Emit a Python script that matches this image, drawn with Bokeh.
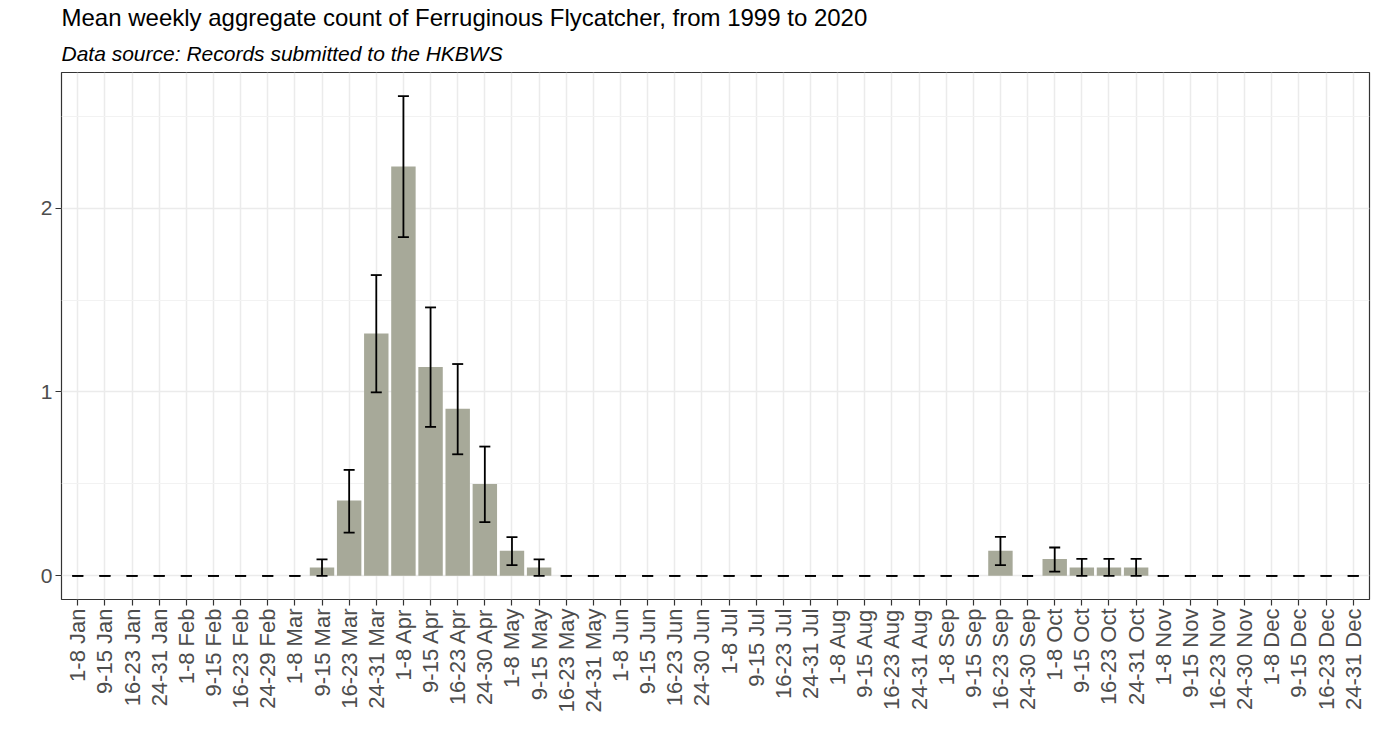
import math
from bokeh.plotting import figure
from bokeh.models import Range1d, FactorRange, FixedTicker, Title, Whisker, ColumnDataSource
from bokeh.embed import file_html
from bokeh.resources import INLINE

weeks = [
    "1-8 Jan", "9-15 Jan", "16-23 Jan", "24-31 Jan",
    "1-8 Feb", "9-15 Feb", "16-23 Feb", "24-29 Feb",
    "1-8 Mar", "9-15 Mar", "16-23 Mar", "24-31 Mar",
    "1-8 Apr", "9-15 Apr", "16-23 Apr", "24-30 Apr",
    "1-8 May", "9-15 May", "16-23 May", "24-31 May",
    "1-8 Jun", "9-15 Jun", "16-23 Jun", "24-30 Jun",
    "1-8 Jul", "9-15 Jul", "16-23 Jul", "24-31 Jul",
    "1-8 Aug", "9-15 Aug", "16-23 Aug", "24-31 Aug",
    "1-8 Sep", "9-15 Sep", "16-23 Sep", "24-30 Sep",
    "1-8 Oct", "9-15 Oct", "16-23 Oct", "24-31 Oct",
    "1-8 Nov", "9-15 Nov", "16-23 Nov", "24-30 Nov",
    "1-8 Dec", "9-15 Dec", "16-23 Dec", "24-31 Dec",
]

mean_count = [
    0, 0, 0, 0,
    0, 0, 0, 0,
    0, 0.045, 0.409, 1.318,
    2.227, 1.136, 0.909, 0.500,
    0.136, 0.045, 0, 0,
    0, 0, 0, 0,
    0, 0, 0, 0,
    0, 0, 0, 0,
    0, 0, 0.136, 0,
    0.091, 0.045, 0.045, 0.045,
    0, 0, 0, 0,
    0, 0, 0, 0,
]

err_upper = [
    0, 0, 0, 0,
    0, 0, 0, 0,
    0, 0.089, 0.576, 1.636,
    2.609, 1.460, 1.152, 0.703,
    0.210, 0.089, 0, 0,
    0, 0, 0, 0,
    0, 0, 0, 0,
    0, 0, 0, 0,
    0, 0, 0.212, 0,
    0.154, 0.092, 0.092, 0.092,
    0, 0, 0, 0,
    0, 0, 0, 0,
]

err_lower = [
    0, 0, 0, 0,
    0, 0, 0, 0,
    0, 0, 0.235, 0.998,
    1.842, 0.810, 0.661, 0.292,
    0.058, 0, 0, 0,
    0, 0, 0, 0,
    0, 0, 0, 0,
    0, 0, 0, 0,
    0, 0, 0.058, 0,
    0.023, 0, 0, 0,
    0, 0, 0, 0,
    0, 0, 0, 0,
]

y_ticks = [0, 1, 2]
y_minor = [0.5, 1.5, 2.5]

title_text = "Mean weekly aggregate count of Ferruginous Flycatcher, from 1999 to 2020"
subtitle_text = "Data source: Records submitted to the HKBWS"

FONT = "Liberation Sans"

src = ColumnDataSource(dict(week=weeks, mean=mean_count, upper=err_upper, lower=err_lower))

p = figure(
    width=1371, height=745,
    x_range=FactorRange(factors=weeks, range_padding=0.1, range_padding_units="absolute"),
    y_range=Range1d(-0.129, 2.738),
    output_backend="svg", toolbar_location=None,
    min_border_left=61, min_border_right=2, min_border_bottom=146, min_border_top=10,
)

p.add_layout(Title(text=subtitle_text, text_font=FONT, text_font_size="21px",
                   text_font_style="italic", text_color="#000000", standoff=15), "above")
p.add_layout(Title(text=title_text, text_font=FONT, text_font_size="24px",
                   text_font_style="normal", text_color="#000000", standoff=3), "above")

p.vbar(x="week", top="mean", bottom=0, width=0.9, source=src,
       fill_color="#a7a999", line_color=None)

wh = Whisker(base="week", upper="upper", lower="lower", source=src,
             line_color="black", line_width=1.8, dimension="height", level="overlay")
for head in (wh.upper_head, wh.lower_head):
    head.size = 11
    head.line_width = 1.8
    head.line_color = "black"
p.add_layout(wh)

p.background_fill_color = "white"
p.border_fill_color = "white"
p.outline_line_color = "#333333"
p.outline_line_width = 1.2

p.yaxis.ticker = FixedTicker(ticks=y_ticks, minor_ticks=y_minor)
p.ygrid.ticker = FixedTicker(ticks=y_ticks, minor_ticks=y_minor)
p.ygrid.grid_line_color = "#ebebeb"
p.ygrid.grid_line_width = 1.5
p.ygrid.minor_grid_line_color = "#f2f2f2"
p.ygrid.minor_grid_line_width = 1.0
p.xgrid.grid_line_color = "#ebebeb"
p.xgrid.grid_line_width = 1.5

for ax in (p.xaxis, p.yaxis):
    ax.axis_line_color = None
    ax.major_tick_line_color = "#333333"
    ax.major_tick_line_width = 1.2
    ax.major_tick_out = 6
    ax.major_tick_in = 0
    ax.minor_tick_line_color = None
    ax.major_label_text_font = FONT
    ax.major_label_text_color = "#4d4d4d"
    ax.major_label_standoff = 3

p.xaxis.major_label_text_font_size = "22px"
p.yaxis.major_label_text_font_size = "21px"
p.xaxis.major_label_orientation = math.pi / 2

open("out.html", "w").write(file_html(p, INLINE))
